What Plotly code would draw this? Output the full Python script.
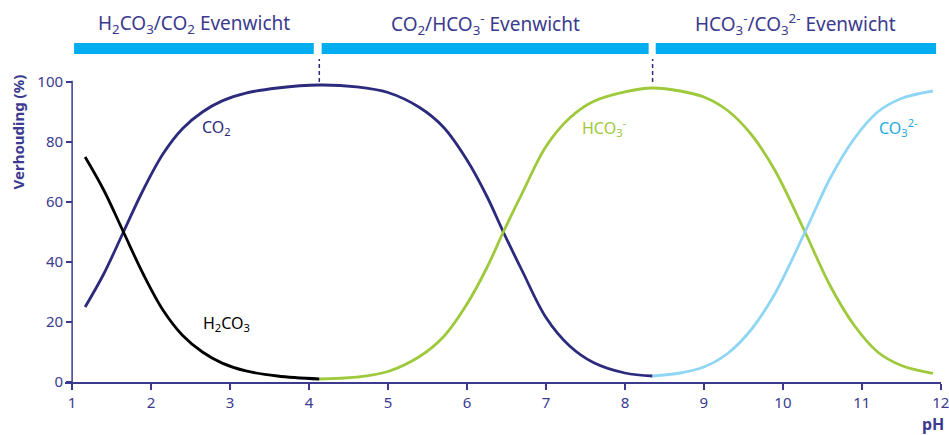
import plotly.graph_objects as go

# --- data ---
ph_h2co3 = [1.165, 1.4, 1.65, 1.9, 2.15, 2.4, 2.65, 2.9, 3.2, 3.6, 4.13]
h2co3 = [75, 64, 50, 36, 24, 15.5, 10, 6.3, 3.7, 2, 1]

ph_co2 = [1.165, 1.4, 1.65, 1.9, 2.15, 2.4, 2.65, 2.9, 3.2, 3.6, 4.13,
          4.6, 5.0, 5.4, 5.7, 6.0, 6.25, 6.46, 6.7, 7.0, 7.3, 7.6, 8.0, 8.35]
co2 = [25, 36, 50, 64, 76, 84.5, 90, 93.7, 96.3, 98, 99,
       98.4, 96.5, 91.5, 85, 74, 62, 50, 37, 21.5, 12, 6.5, 3, 2]

ph_hco3 = [4.13, 4.6, 5.0, 5.4, 5.7, 6.0, 6.25, 6.46, 6.7, 7.0, 7.3, 7.6, 8.0, 8.35,
           8.7, 9.0, 9.3, 9.6, 9.9, 10.28, 10.6, 10.9, 11.2, 11.5, 11.9]
hco3 = [1, 1.6, 3.5, 8.5, 15, 26, 38, 50, 63, 78.5, 88, 93.5, 96.7, 98,
        97, 95, 90.5, 82.5, 70.5, 50, 32, 19, 10, 5.5, 2.9]

ph_co3 = [8.35, 8.7, 9.0, 9.3, 9.6, 9.9, 10.28, 10.6, 10.9, 11.2, 11.5, 11.9]
co3 = [2, 3, 5, 9.5, 17.5, 29.5, 50, 68, 81, 90, 94.5, 97]

# equilibrium zones (pH start, pH end, title)
zones = [
    (1.025, 4.06, "H<sub>2</sub>CO<sub>3</sub>/CO<sub>2</sub> Evenwicht"),
    (4.16, 8.30, "CO<sub>2</sub>/HCO<sub>3</sub><sup>-</sup> Evenwicht"),
    (8.39, 11.94, "HCO<sub>3</sub><sup>-</sup>/CO<sub>3</sub><sup>2-</sup> Evenwicht"),
]
peaks = [4.13, 8.35]

x_ticks = list(range(1, 13))
y_ticks = [0, 20, 40, 60, 80, 100]

NAVY = "#2b2a7c"
TEXT = "#3b3a8f"
GREEN = "#9dc93b"
LBLUE = "#8fd6f4"
BAR = "#00adef"
FONT = "Noto Sans"

fig = go.Figure()
line_opts = dict(mode="lines", line_shape="spline", hoverinfo="skip", showlegend=False)
fig.add_trace(go.Scatter(x=ph_co2, y=co2, line=dict(color=NAVY, width=2.8), **line_opts))
fig.add_trace(go.Scatter(x=ph_hco3, y=hco3, line=dict(color=GREEN, width=2.8), **line_opts))
fig.add_trace(go.Scatter(x=ph_co3, y=co3, line=dict(color=LBLUE, width=2.8), **line_opts))
fig.add_trace(go.Scatter(x=ph_h2co3, y=h2co3, line=dict(color="black", width=2.8), **line_opts))

shapes = []
annotations = []
for x0, x1, title in zones:
    shapes.append(dict(type="rect", xref="x", yref="y", x0=x0, x1=x1, y0=109.3, y1=113,
                       fillcolor=BAR, line=dict(width=0)))
    annotations.append(dict(x=(x0 + x1) / 2, y=119.5, xref="x", yref="y", text=title,
                            showarrow=False, xanchor="center", yanchor="middle",
                            font=dict(family=FONT, size=19, color=TEXT)))
for p in peaks:
    shapes.append(dict(type="line", xref="x", yref="y", x0=p, x1=p, y0=100, y1=107.7,
                       line=dict(color=NAVY, width=1.5, dash="4px,3px")))

# y axis line (only up to 100)
shapes.append(dict(type="line", xref="x", yref="y", x0=1, x1=1, y0=0, y1=100.4,
                   line=dict(color=TEXT, width=1.5)))

labels = [
    (2.62, 85, "CO<sub>2</sub>", NAVY),
    (2.63, 19.5, "H<sub>2</sub>CO<sub>3</sub>", "black"),
    (7.43, 85, "HCO<sub>3</sub><sup>-</sup>", GREEN),
    (11.19, 85, "CO<sub>3</sub><sup>2-</sup>", "#27aae1"),
]
for x, y, t, c in labels:
    annotations.append(dict(x=x, y=y, xref="x", yref="y", text=t, showarrow=False,
                            xanchor="left", yanchor="middle",
                            font=dict(family=FONT, size=16, color=c)))

annotations.append(dict(x=1.006, y=-0.113, xref="paper", yref="paper", text="<b>pH</b>",
                        showarrow=False, xanchor="right", yanchor="middle",
                        font=dict(family=FONT, size=16, color=TEXT)))
annotations.append(dict(x=-0.0537, y=83.5, xref="paper", yref="y", text="<b>Verhouding (%)</b>",
                        showarrow=False, textangle=-90, xanchor="center", yanchor="middle",
                        font=dict(family=FONT, size=15, color=TEXT)))

x_lo, x_hi = 0.91, 12.002

fig.update_layout(
    width=949, height=435,
    margin=dict(l=65, r=8, t=10, b=53),
    plot_bgcolor="white", paper_bgcolor="white",
    font=dict(family=FONT, color=TEXT),
    shapes=shapes, annotations=annotations,
    xaxis=dict(range=[x_lo, x_hi], tickvals=x_ticks, showgrid=False, zeroline=False,
               showline=True, linecolor=TEXT, linewidth=1.5, ticks="outside",
               ticklen=6, tickcolor=TEXT, tickwidth=1.5, ticklabeloverflow="allow",
               automargin=False,
               tickfont=dict(family=FONT, size=15, color=TEXT)),
    yaxis=dict(range=[0, 124], tickvals=y_ticks, showgrid=False, zeroline=False,
               showline=False, ticks="outside", ticklen=6, tickcolor=TEXT, tickwidth=1.5,
               anchor="free", position=(1 - x_lo) / (x_hi - x_lo), automargin=False,
               tickfont=dict(family=FONT, size=15, color=TEXT)),
)

# drop the default body margin so the 949x435 figure fills the window
fig.write_html("out.html", config={"displayModeBar": False},
               post_script="document.body.style.margin='0';")
